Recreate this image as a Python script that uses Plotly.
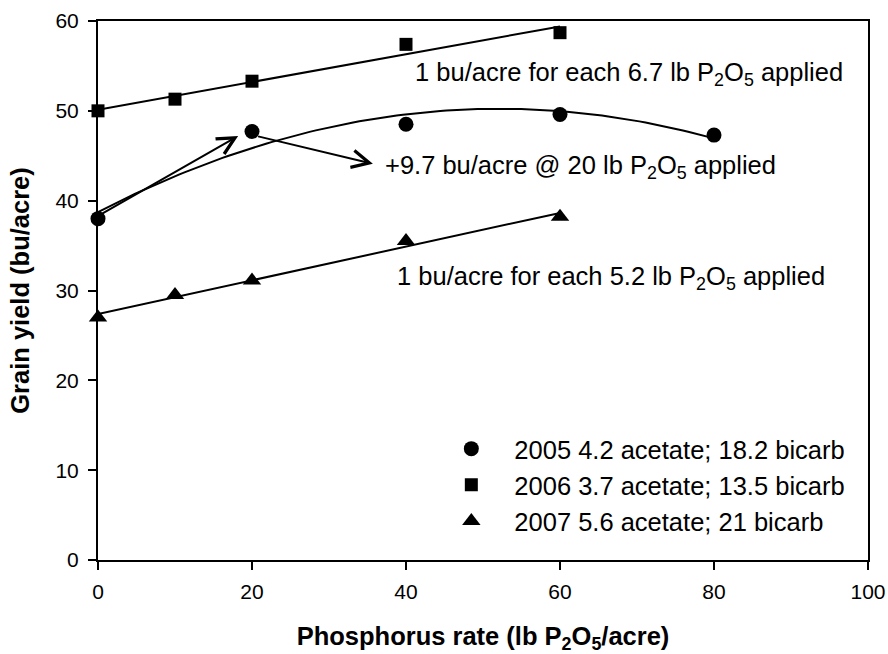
import numpy as np
import plotly.graph_objects as go

FONT = "Arial, Liberation Sans, sans-serif"

# ---- data ----
x_2005 = [0, 20, 40, 60, 80]
y_2005 = [38.0, 47.7, 48.5, 49.6, 47.3]

x_2006 = [0, 10, 20, 40, 60]
y_2006 = [50.0, 51.3, 53.3, 57.4, 58.7]

x_2007 = [0, 10, 20, 40, 60]
y_2007 = [27.0, 29.5, 31.1, 35.5, 38.2]

names = ["2005 4.2 acetate; 18.2 bicarb",
         "2006 3.7 acetate; 13.5 bicarb",
         "2007 5.6 acetate; 21 bicarb"]

x_ticks = [0, 20, 40, 60, 80, 100]
y_ticks = [0, 10, 20, 30, 40, 50, 60]

fig = go.Figure()

# trend lines fitted from the data (as the original chart does)
def trend(xs, ys, deg):
    c = np.polyfit(xs, ys, deg)
    xx = np.linspace(min(xs), max(xs), 100)
    return xx, np.polyval(c, xx)

for xs, ys, deg in [(x_2005, y_2005, 2), (x_2006, y_2006, 1), (x_2007, y_2007, 1)]:
    xx, yy = trend(xs, ys, deg)
    fig.add_trace(go.Scatter(x=xx, y=yy, mode="lines", showlegend=False,
                             line=dict(color="black", width=2), cliponaxis=False,
                             hoverinfo="skip"))

for xs, ys, sym, nm, sz in [(x_2005, y_2005, "circle", names[0], 15),
                             (x_2006, y_2006, "square", names[1], 13),
                             (x_2007, y_2007, "triangle-up", names[2], 16)]:
    fig.add_trace(go.Scatter(x=xs, y=ys, mode="markers", name=nm,
                             marker=dict(symbol=sym, size=sz, color="black",
                                         line=dict(width=0)),
                             cliponaxis=False))

FS = 25.5
ann_font = dict(family=FONT, size=FS, color="black")
annotations = [
    dict(x=40.9, y=54.1, xref="x", yref="y", xanchor="left", yanchor="middle",
         text="1 bu/acre for each 6.7 lb P<sub>2</sub>O<sub>5</sub> applied",
         showarrow=False, font=ann_font),
    dict(x=37.0, y=43.7, xref="x", yref="y", xanchor="left", yanchor="middle",
         text="+9.7 bu/acre @ 20 lb P<sub>2</sub>O<sub>5</sub> applied",
         showarrow=False, font=ann_font),
    dict(x=38.6, y=31.4, xref="x", yref="y", xanchor="left", yanchor="middle",
         text="1 bu/acre for each 5.2 lb P<sub>2</sub>O<sub>5</sub> applied",
         showarrow=False, font=ann_font),
    dict(x=18.2, y=47.2, ax=0, ay=38.3, xref="x", yref="y", axref="x", ayref="y",
         text="", showarrow=True, arrowhead=5, arrowsize=1.7, arrowwidth=2,
         arrowcolor="black", standoff=0, startstandoff=0),
    dict(x=35.7, y=44.1, ax=20.6, ay=47.2, xref="x", yref="y", axref="x", ayref="y",
         text="", showarrow=True, arrowhead=5, arrowsize=1.7, arrowwidth=2,
         arrowcolor="black", standoff=0, startstandoff=0),
]

axis_common = dict(showline=True, linewidth=2, linecolor="black", mirror=True,
                   ticks="outside", ticklen=8, tickwidth=2, tickcolor="black",
                   showgrid=False, zeroline=False, automargin=False,
                   tickfont=dict(family=FONT, size=21, color="black"))

fig.update_layout(
    width=888, height=654,
    margin=dict(l=98, r=20, t=21, b=94),
    paper_bgcolor="white", plot_bgcolor="white",
    font=dict(family=FONT, color="black"),
    annotations=annotations,
    xaxis=dict(range=[0, 100], tickvals=x_ticks, ticklabelstandoff=4, **axis_common,
               title=dict(text="<b>Phosphorus rate (lb P<sub>2</sub>O<sub>5</sub>/acre)</b>",
                          font=dict(family=FONT, size=FS, color="black"), standoff=28)),
    yaxis=dict(range=[0, 60], tickvals=y_ticks, ticklabelstandoff=5, **axis_common,
               title=dict(text="<b>Grain yield (bu/acre)</b>",
                          font=dict(family=FONT, size=FS, color="black"), standoff=19)),
    legend=dict(x=0.429, y=0.139, xanchor="left", yanchor="middle",
                bgcolor="rgba(0,0,0,0)", borderwidth=0, itemwidth=76,
                font=dict(family=FONT, size=FS, color="black"),
                itemsizing="trace"),
    showlegend=True,
)

fig.write_html("out.html",
               config={"displayModeBar": False},
               post_script="document.body.style.margin='0';"
                           "document.body.style.overflow='hidden';")
